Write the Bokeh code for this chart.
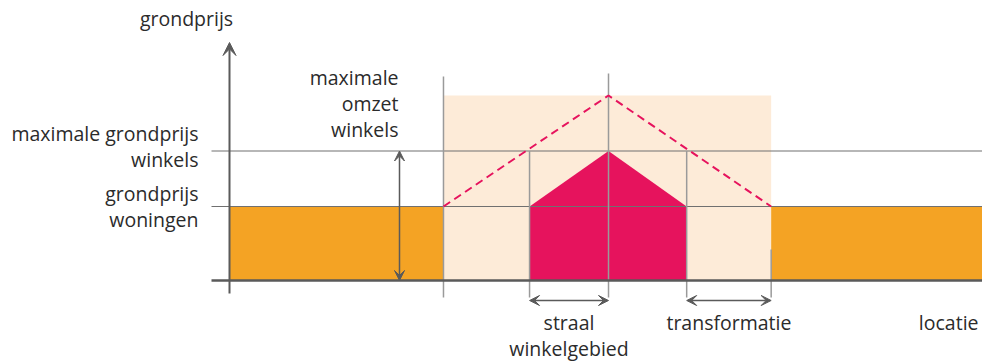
from bokeh.plotting import figure
from bokeh.models import Range1d, Arrow, VeeHead
from bokeh.core.properties import value
from bokeh.embed import file_html
from bokeh.resources import INLINE

# ---- data (conceptual units) ----
# price levels
level_names = ["grond", "woningen", "winkels", "omzet"]
level_values = [0.0, 1.0, 1.75, 2.5]
# location boundaries along the x axis
loc_names = ["as", "zone_links", "straal_links", "centrum", "straal_rechts", "zone_rechts", "einde"]
loc_values = [0.0, 2.71, 3.80, 4.80, 5.79, 6.86, 9.6]
# labels
y_title = "grondprijs"
x_title = "locatie"
left_labels = [["maximale grondprijs", "winkels"], ["grondprijs", "woningen"]]
omzet_label = ["maximale", "omzet", "winkels"]
straal_label = ["straal", "winkelgebied"]
transf_label = ["transformatie"]

L = dict(zip(level_names, level_values))
X = dict(zip(loc_names, loc_values))

# ---- geometry / style ----
W, H = 982, 362
SX, SY = 78.96, 74.0          # pixels per unit
ORIGIN_PX = (229, 280)        # axis origin in figure pixels
def dx(px): return px / SX
def dy(px): return px / SY

p = figure(width=W, height=H, output_backend="svg", toolbar_location=None,
           x_range=Range1d(-ORIGIN_PX[0] / SX, (W - ORIGIN_PX[0]) / SX),
           y_range=Range1d(-(H - ORIGIN_PX[1]) / SY, ORIGIN_PX[1] / SY),
           min_border=0, outline_line_color=None)
p.axis.visible = False
p.grid.visible = False
p.background_fill_color = "white"

ORANGE = "#F4A324"
CRIMSON = "#E6135D"
PEACH = "#FDEBD8"
DARK = "#5a5a5a"
TXT = "#2b2b2b"
FONT = value("Open Sans")
FS = "19.5px"

# peach zone
p.quad(left=X["zone_links"], right=X["zone_rechts"], bottom=L["grond"], top=L["omzet"],
       fill_color=PEACH, line_color=None)
# orange (woningen)
p.quad(left=[X["as"], X["zone_rechts"]], right=[X["zone_links"], X["einde"]],
       bottom=L["grond"], top=L["woningen"], fill_color=ORANGE, line_color=None)
# crimson shop area
p.patch([X["straal_links"], X["straal_links"], X["centrum"], X["straal_rechts"], X["straal_rechts"]],
        [L["grond"], L["woningen"], L["winkels"], L["woningen"], L["grond"]],
        fill_color=CRIMSON, line_color=None)

# horizontal guide lines
for lv in (L["woningen"], L["winkels"]):
    p.line([X["as"] - dx(18), X["einde"]], [lv, lv], line_color="#707070", line_width=1.2)

# vertical guide lines
vx = [X["zone_links"], X["centrum"], X["straal_links"], X["straal_rechts"], X["zone_rechts"]]
p.segment(x0=vx, y0=[-dy(17)] * 5, x1=vx,
          y1=[L["omzet"] + dy(19), L["omzet"] + dy(22), L["winkels"], L["winkels"], dy(31)],
          line_color="#9a9a9a", line_width=1.5)

# dashed maximum-turnover line
p.line([X["zone_links"], X["centrum"], X["zone_rechts"]], [L["woningen"], L["omzet"], L["woningen"]],
       line_color=CRIMSON, line_width=2, line_dash="8 5")

# axes
p.line([X["as"] - dx(18), X["einde"]], [L["grond"], L["grond"]], line_color=DARK, line_width=2.5)
p.add_layout(Arrow(end=VeeHead(size=13, fill_color=DARK, line_color=DARK),
                   x_start=X["as"], y_start=-dy(13), x_end=X["as"], y_end=dy(238),
                   line_color=DARK, line_width=2))

# dimension arrows
def dbl(x0, y0, x1, y1):
    p.add_layout(Arrow(start=VeeHead(size=10, fill_color=DARK, line_color=DARK),
                       end=VeeHead(size=10, fill_color=DARK, line_color=DARK),
                       x_start=x0, y_start=y0, x_end=x1, y_end=y1,
                       line_color=DARK, line_width=1.5))

ax = X["as"] + dx(170)
dbl(ax, L["winkels"], ax, L["grond"])
dbl(X["straal_links"], -dy(20), X["centrum"], -dy(20))
dbl(X["straal_rechts"], -dy(20), X["zone_rechts"], -dy(20))

# texts
LS = dy(26)
def txt(xs, ys, texts, align):
    p.text(x=xs, y=ys, text=texts, text_font=FONT, text_font_size=FS, text_color=TXT,
           text_align=align, text_baseline="middle")

txt([X["as"] - dx(43)], [dy(262)], [y_title], "center")
lx = X["as"] - dx(31)
txt([lx, lx], [L["winkels"] + dy(18), L["winkels"] + dy(18) - LS], left_labels[0], "right")
txt([lx, lx], [L["woningen"] + dy(13), L["woningen"] + dy(13) - LS], left_labels[1], "right")
ox = X["as"] + dx(169)
oy = L["omzet"] + dy(18)
txt([ox] * 3, [oy - i * LS for i in range(3)], omzet_label, "right")
sx = (X["straal_links"] + X["centrum"]) / 2
txt([sx, sx], [-dy(42), -dy(42) - LS], straal_label, "center")
tx = (X["straal_rechts"] + X["zone_rechts"]) / 2
txt([tx], [-dy(42)], transf_label, "center")
txt([X["as"] + dx(749)], [-dy(42)], [x_title], "right")

open("out.html", "w").write(file_html(p, INLINE))
